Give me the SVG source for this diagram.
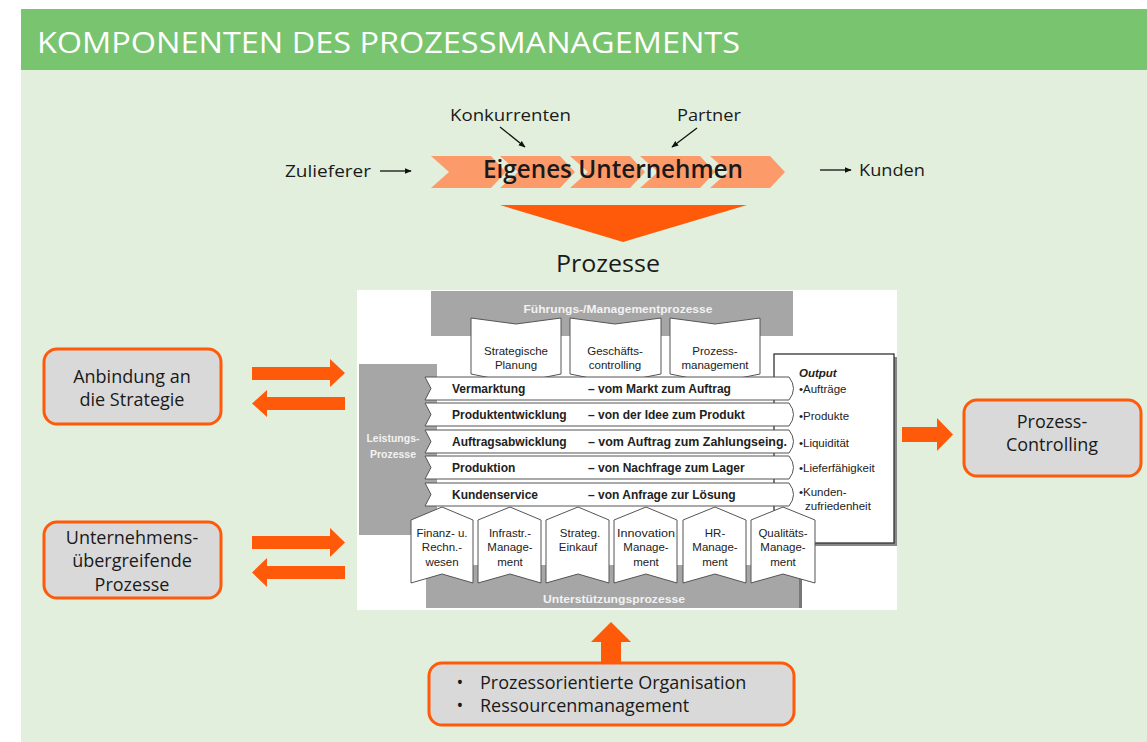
<svg xmlns="http://www.w3.org/2000/svg" width="1147" height="742" viewBox="0 0 1147 742">
<defs>
<marker id="ah" viewBox="0 0 10 10" refX="9" refY="5" markerWidth="7" markerHeight="7" orient="auto" markerUnits="userSpaceOnUse"><path d="M0,1 L10,5 L0,9 Z" fill="#111"/></marker>
</defs>
<style>
.o{font-family:"Open Sans","Noto Sans","DejaVu Sans",sans-serif;fill:#1a1a1a}
.a{font-family:"Liberation Sans",Arial,sans-serif;fill:#222;font-size:11.5px}
.ab{font-family:"Liberation Sans",Arial,sans-serif;fill:#222;font-size:12px;font-weight:bold}
.gw{font-family:"Liberation Sans",Arial,sans-serif;fill:#f2f2f2;font-size:10.5px;font-weight:bold}
.box{fill:#D9D9D9;stroke:#FF5A0A;stroke-width:3}
.blk{fill:#FF5A0A}
.ln{stroke:#111;stroke-width:1.3;fill:none}
.wsh{fill:#fff;stroke:#555;stroke-width:1}
.grey{fill:#A6A6A6}
.chev{fill:#FD9A6A}
</style>
<rect x="0" y="0" width="1147" height="742" fill="#fff"/>
<rect x="21" y="70" width="1126" height="672" fill="#E2EFDC"/>
<g id="header">
<rect x="21" y="9" width="1126" height="61" fill="#79C46F"/>
<text x="37" y="53" font-family="Open Sans, Noto Sans, sans-serif" font-size="29" fill="#fff" textLength="703" lengthAdjust="spacingAndGlyphs">KOMPONENTEN DES PROZESSMANAGEMENTS</text>
</g>
<g id="unternehmen">
<polygon class="chev" points="431,156 491,156 506,172 491,188 431,188 449,172"/>
<polygon class="chev" points="500,156 560,156 575,172 560,188 500,188 518,172"/>
<polygon class="chev" points="570,156 630,156 645,172 630,188 570,188 588,172"/>
<polygon class="chev" points="640,156 700,156 715,172 700,188 640,188 658,172"/>
<polygon class="chev" points="710,156 770,156 785,172 770,188 710,188 728,172"/>
<text class="o" x="613" y="178" font-size="25" font-weight="600" text-anchor="middle" textLength="260" lengthAdjust="spacingAndGlyphs">Eigenes Unternehmen</text>
</g>
<g id="zulieferer"><text class="o" x="285" y="177" font-size="17" textLength="86" lengthAdjust="spacingAndGlyphs">Zulieferer</text></g>
<g id="konkurrenten"><text class="o" x="450" y="121" font-size="17" textLength="121" lengthAdjust="spacingAndGlyphs">Konkurrenten</text></g>
<g id="partner"><text class="o" x="677" y="121" font-size="17" textLength="64" lengthAdjust="spacingAndGlyphs">Partner</text></g>
<g id="kunden"><text class="o" x="859" y="176" font-size="17" textLength="66" lengthAdjust="spacingAndGlyphs">Kunden</text></g>
<g id="trichter">
<polygon class="blk" points="500,205 747,205 623,242"/>
</g>
<g id="prozesse-label"><text class="o" x="608" y="272" font-size="24" text-anchor="middle" textLength="104" lengthAdjust="spacingAndGlyphs">Prozesse</text></g>
<g id="prozesslandkarte">
<rect x="357" y="290" width="540" height="320" fill="#fff"/>
<rect class="grey" x="431" y="291" width="362" height="45"/>
<text class="gw" x="618" y="313" text-anchor="middle" textLength="189" lengthAdjust="spacingAndGlyphs">Führungs-/Managementprozesse</text>
<rect class="grey" x="359" y="364" width="78" height="171"/>
<text class="gw" x="393" y="442" text-anchor="middle">Leistungs-</text>
<text class="gw" x="393" y="458" text-anchor="middle">Prozesse</text>
<rect x="777" y="357" width="120" height="189" fill="#888"/>
<rect x="774" y="354" width="120" height="189" fill="#fff" stroke="#333" stroke-width="1.3"/>
<text class="a" x="799" y="377" font-size="10.5" font-weight="bold" font-style="italic">Output</text>
<text class="a" x="799" y="393">•Aufträge</text>
<text class="a" x="799" y="420">•Produkte</text>
<text class="a" x="799" y="447">•Liquidität</text>
<text class="a" x="799" y="472">•Lieferfähigkeit</text>
<text class="a" x="799" y="496">•Kunden-</text>
<text class="a" x="805" y="510">zufriedenheit</text>
<rect class="grey" x="426" y="565" width="375" height="43"/>
<rect x="799" y="567" width="3" height="41" fill="#777"/>
<text class="gw" x="614" y="603" text-anchor="middle" textLength="142" lengthAdjust="spacingAndGlyphs">Unterstützungsprozesse</text>
<g id="fuehrung-1"><polygon class="wsh" points="471,318 516,324 561,318 561,374 516,383 471,374"/><text class="a" x="516" y="355" text-anchor="middle">Strategische</text><text class="a" x="516" y="369" text-anchor="middle">Planung</text></g>
<g id="fuehrung-2"><polygon class="wsh" points="570,318 615,324 661,318 661,374 615,383 570,374"/><text class="a" x="615" y="355" text-anchor="middle">Geschäfts-</text><text class="a" x="615" y="369" text-anchor="middle">controlling</text></g>
<g id="fuehrung-3"><polygon class="wsh" points="670,318 715,324 760,318 760,374 715,383 670,374"/><text class="a" x="715" y="355" text-anchor="middle">Prozess-</text><text class="a" x="715" y="369" text-anchor="middle">management</text></g>
<g id="unterstuetzung-1"><polygon class="wsh" points="411,520 442,507 473,520 473,583 442,574 411,583"/><text class="a" x="442" y="537" text-anchor="middle">Finanz- u.</text><text class="a" x="442" y="551" text-anchor="middle">Rechn.-</text><text class="a" x="442" y="566" text-anchor="middle">wesen</text></g>
<g id="unterstuetzung-2"><polygon class="wsh" points="478,520 510,507 541,520 541,583 510,574 478,583"/><text class="a" x="510" y="537" text-anchor="middle">Infrastr.-</text><text class="a" x="510" y="551" text-anchor="middle">Manage-</text><text class="a" x="510" y="566" text-anchor="middle">ment</text></g>
<g id="unterstuetzung-3"><polygon class="wsh" points="546,520 578,507 609,520 609,583 578,574 546,583"/><text class="a" x="580" y="537" text-anchor="middle">Strateg.</text><text class="a" x="578" y="551" text-anchor="middle">Einkauf</text></g>
<g id="unterstuetzung-4"><polygon class="wsh" points="614,520 646,507 677,520 677,583 646,574 614,583"/><text class="a" x="646" y="537" text-anchor="middle" textLength="58" lengthAdjust="spacingAndGlyphs">Innovation</text><text class="a" x="646" y="551" text-anchor="middle">Manage-</text><text class="a" x="646" y="566" text-anchor="middle">ment</text></g>
<g id="unterstuetzung-5"><polygon class="wsh" points="683,520 715,507 746,520 746,583 715,574 683,583"/><text class="a" x="715" y="537" text-anchor="middle">HR-</text><text class="a" x="715" y="551" text-anchor="middle">Manage-</text><text class="a" x="715" y="566" text-anchor="middle">ment</text></g>
<g id="unterstuetzung-6"><polygon class="wsh" points="751,520 783,507 815,520 815,583 783,574 751,583"/><text class="a" x="783" y="537" text-anchor="middle">Qualitäts-</text><text class="a" x="783" y="551" text-anchor="middle">Manage-</text><text class="a" x="783" y="566" text-anchor="middle">ment</text></g>
<g id="leistung-1"><path class="wsh" d="M425,377 L789,377 Q798,388.5 789,400 L425,400 L431,388.5 Z"/><text class="ab" x="452" y="393">Vermarktung</text><text class="ab" x="588" y="393">– vom Markt zum Auftrag</text></g>
<g id="leistung-2"><path class="wsh" d="M425,403 L789,403 Q798,414.5 789,426 L425,426 L431,414.5 Z"/><text class="ab" x="452" y="419">Produktentwicklung</text><text class="ab" x="588" y="419">– von der Idee zum Produkt</text></g>
<g id="leistung-3"><path class="wsh" d="M425,430 L789,430 Q798,441.5 789,453 L425,453 L431,441.5 Z"/><text class="ab" x="452" y="446">Auftragsabwicklung</text><text class="ab" x="588" y="446" textLength="199" lengthAdjust="spacingAndGlyphs">– vom Auftrag zum Zahlungseing.</text></g>
<g id="leistung-4"><path class="wsh" d="M425,456 L789,456 Q798,467.5 789,479 L425,479 L431,467.5 Z"/><text class="ab" x="452" y="472">Produktion</text><text class="ab" x="588" y="472">– von Nachfrage zum Lager</text></g>
<g id="leistung-5"><path class="wsh" d="M425,483 L789,483 Q798,494.5 789,506 L425,506 L431,494.5 Z"/><text class="ab" x="452" y="499">Kundenservice</text><text class="ab" x="588" y="499">– von Anfrage zur Lösung</text></g>
</g>
<g id="anbindung">
<rect class="box" x="44" y="349" width="177" height="75" rx="13"/>
<text class="o" x="132" y="383" font-size="18" text-anchor="middle">Anbindung an</text>
<text class="o" x="132" y="406" font-size="18" text-anchor="middle">die Strategie</text>
</g>
<g id="uebergreifend">
<rect class="box" x="44" y="522" width="177" height="76" rx="13"/>
<text class="o" x="132" y="544" font-size="18" text-anchor="middle">Unternehmens-</text>
<text class="o" x="132" y="567" font-size="18" text-anchor="middle">übergreifende</text>
<text class="o" x="132" y="591" font-size="18" text-anchor="middle">Prozesse</text>
</g>
<g id="controlling">
<rect class="box" x="964" y="400" width="177" height="76" rx="13"/>
<text class="o" x="1052" y="428" font-size="18" text-anchor="middle">Prozess-</text>
<text class="o" x="1052" y="451" font-size="18" text-anchor="middle">Controlling</text>
</g>
<g id="organisation">
<rect class="box" x="429" y="663" width="365" height="62" rx="13"/>
<text class="o" x="460" y="689" font-size="18" text-anchor="middle">•</text>
<text class="o" x="480" y="689" font-size="18">Prozessorientierte Organisation</text>
<text class="o" x="460" y="712" font-size="18" text-anchor="middle">•</text>
<text class="o" x="480" y="712" font-size="18">Ressourcenmanagement</text>
</g>
<g id="connectors">
<line class="ln" x1="380" y1="171" x2="411" y2="171" marker-end="url(#ah)"/>
<line class="ln" x1="820" y1="170" x2="851" y2="170" marker-end="url(#ah)"/>
<line class="ln" x1="500" y1="127" x2="525" y2="147" marker-end="url(#ah)"/>
<line class="ln" x1="697" y1="128" x2="672" y2="147" marker-end="url(#ah)"/>
<polygon class="blk" points="252,367 330,367 330,359 345,373 330,387 330,380 252,380"/>
<polygon class="blk" points="345,397 267,397 267,390 252,403.5 267,417 267,410 345,410"/>
<polygon class="blk" points="252,536 330,536 330,528 345,542.5 330,557 330,549 252,549"/>
<polygon class="blk" points="345,566 267,566 267,558 252,572.5 267,587 267,579 345,579"/>
<polygon class="blk" points="902,427 937,427 937,418 953,434.5 937,451 937,442 902,442"/>
<polygon class="blk" points="601,663 601,642 591,642 611,622 631,642 621,642 621,663"/>
</g>
</svg>
